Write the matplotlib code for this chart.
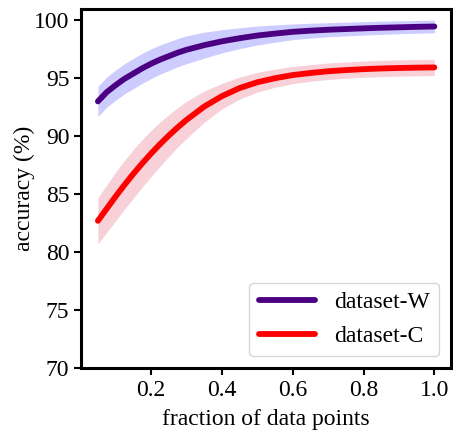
import numpy as np
import matplotlib
matplotlib.use("Agg")
import matplotlib.pyplot as plt

plt.rcParams['font.family'] = ['Liberation Serif', 'DejaVu Serif']

# fraction of data points
frac = [0.05, 0.075, 0.10, 0.125, 0.15, 0.175, 0.20, 0.225, 0.25, 0.275, 0.30,
        0.35, 0.40, 0.45, 0.50, 0.55, 0.60, 0.65, 0.70, 0.75, 0.80,
        0.85, 0.90, 0.95, 1.00]

# mean accuracy (%)
acc_w = [93.0, 93.8, 94.4, 94.95, 95.4, 95.85, 96.25, 96.6, 96.9, 97.2, 97.45,
         97.85, 98.18, 98.45, 98.68, 98.85, 99.0, 99.1, 99.18, 99.24, 99.3,
         99.35, 99.39, 99.43, 99.46]
acc_c = [82.7, 83.75, 84.8, 85.8, 86.75, 87.65, 88.5, 89.3, 90.05, 90.75, 91.4,
         92.55, 93.45, 94.15, 94.65, 95.0, 95.27, 95.45, 95.6, 95.7, 95.78,
         95.84, 95.88, 95.91, 95.93]

# spread (+/-)
std_w = [1.3, 1.3, 1.3, 1.3, 1.3, 1.3, 1.28, 1.26, 1.24, 1.22, 1.2,
         1.12, 1.0, 0.9, 0.82, 0.74, 0.68, 0.64, 0.61, 0.59, 0.58,
         0.57, 0.56, 0.55, 0.55]
std_c = [2.0, 2.05, 2.1, 2.1, 2.1, 2.05, 2.0, 1.9, 1.8, 1.7, 1.6,
         1.35, 1.1, 0.95, 0.85, 0.78, 0.74, 0.72, 0.71, 0.7, 0.7,
         0.7, 0.7, 0.7, 0.7]

x = np.array(frac)
w, c = np.array(acc_w), np.array(acc_c)
sw, sc = np.array(std_w), np.array(std_c)

fig = plt.figure(figsize=(4.53, 4.32), dpi=100)
ax = fig.add_axes([0.179, 0.148, 0.817, 0.832])

ax.fill_between(x, w - sw, w + sw, color='blue', alpha=0.2, linewidth=0)
ax.plot(x, w, color='indigo', lw=4.2, solid_capstyle='round', label='dataset-W')
ax.fill_between(x, c - sc, c + sc, color='crimson', alpha=0.2, linewidth=0)
ax.plot(x, c, color='red', lw=4.2, solid_capstyle='round', label='dataset-C')

ax.set_ylim(70, 101)
ax.set_yticks([70, 75, 80, 85, 90, 95, 100])
ax.set_xticks([0.2, 0.4, 0.6, 0.8, 1.0])
ax.tick_params(labelsize=17, width=1.5, length=5)
for s in ax.spines.values():
    s.set_linewidth(2.2)

ax.set_xlabel('fraction of data points', fontsize=17, labelpad=6)
ax.set_ylabel('accuracy (%)', fontsize=17, labelpad=-1)
ax.legend(loc='lower right', fontsize=17, handlelength=2.4)

fig.savefig('out.png', dpi=100)
